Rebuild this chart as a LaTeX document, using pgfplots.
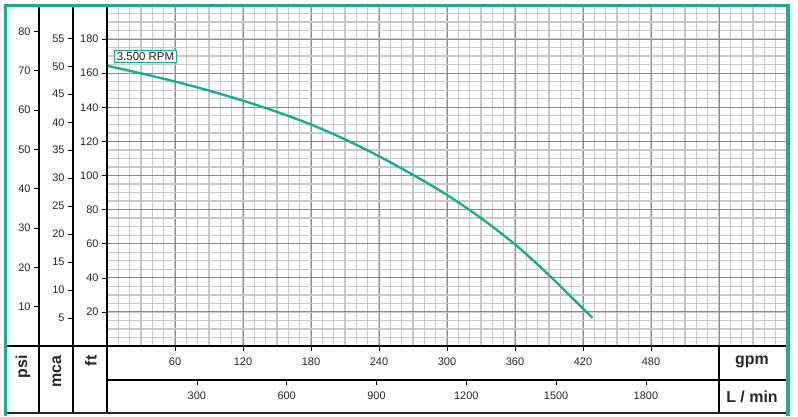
\documentclass[border=0pt]{standalone}
\usepackage{fontspec}
\setmainfont{Liberation Sans}
\usepackage{pgfplots}
\pgfplotsset{compat=1.18}

\definecolor{rpm}{RGB}{24,176,140}
\definecolor{gridmin}{RGB}{200,200,200}
\definecolor{gridmaj}{RGB}{140,140,140}
\definecolor{txt}{RGB}{40,40,40}

\pgfplotsset{
  pumpaxis/.style={
    scale only axis, anchor=south west,
    tick align=outside, major tick length=5bp, minor tick length=0pt,
    every tick/.style={black, line width=0.6bp},
    ticklabel style={font=\fontsize{11}{13}\selectfont, text=txt},
    /pgf/number format/assume math mode=true,
    /pgf/number format/1000 sep={},
    axis line style={draw=none},
  },
}

\begin{document}
\begin{tikzpicture}[x=1bp,y=1bp]
\path[use as bounding box] (0,0) rectangle (798,416);

% head in ft against flow in gpm
\begin{axis}[pumpaxis, at={(107bp,70bp)}, width=680bp, height=341bp,
  xmin=0, xmax=600, ymin=0, ymax=200,
  xtick={60,120,...,480}, ytick={20,40,...,180},
  minor xtick={0,10,...,600}, minor ytick={0,5,...,200},
  extra x ticks={540,600}, extra y ticks={200},
  extra x tick labels={}, extra y tick labels={},
  extra tick style={major tick length=0pt, grid=major},
  xtick pos=left, ytick pos=left,
  grid=both,
  minor grid style={gridmin, line width=1.3bp},
  major grid style={gridmaj, line width=0.9bp},
  xticklabel style={yshift=-3bp},
]
\addplot[rpm, line width=2.4bp, smooth] coordinates {
  (0,164.4) (30,159.9) (60,155.1) (90,149.8) (120,143.9) (150,137.3)
  (180,129.9) (210,121.2) (240,111.3) (270,100.4) (300,88.6) (330,75.0)
  (360,59.6) (390,41.6) (420,21.9) (428.3,16.6)};
\node[draw=rpm, fill=white, line width=1bp, inner sep=2bp,
  font=\fontsize{11.5}{13}\selectfont, text=txt] at (axis cs:34,169.6) {3.500 RPM};
\end{axis}

% mca scale
\begin{axis}[pumpaxis, at={(73bp,70bp)}, width=34bp, height=341bp,
  xmin=0, xmax=1, ymin=0, ymax=60.96,
  hide x axis, axis y line*=left,
  ytick={5,10,...,55}]
\end{axis}

% psi scale
\begin{axis}[pumpaxis, at={(39bp,70bp)}, width=34bp, height=341bp,
  xmin=0, xmax=1, ymin=0, ymax=86.71,
  hide x axis, axis y line*=left,
  ytick={10,20,...,80}]
\end{axis}

% L/min scale
\begin{axis}[pumpaxis, at={(107bp,36bp)}, width=680bp, height=30bp,
  xmin=0, xmax=2271.2, ymin=0, ymax=1,
  hide y axis, axis x line*=bottom,
  xtick={300,600,...,1800},
  xticklabel style={yshift=-3bp}]
\end{axis}

% frame lines
\draw[black, line width=1.3bp] (39,3) -- (39,411) (73,3) -- (73,411) (107,3) -- (107,411);
\draw[black, line width=1.3bp] (5,70) -- (787,70);
\draw[black, line width=1.3bp] (107,36) -- (787,36);
\draw[black, line width=1.3bp] (719,3) -- (719,70);
\draw[black!85, line width=2.4bp] (5,3.3) -- (787,3.3);

% unit labels
\begin{scope}[font=\fontsize{16}{18}\selectfont\bfseries, text=txt]
\node[rotate=90, anchor=east] at (23,64) {psi};
\node[rotate=90, anchor=east] at (57,64) {mca};
\node[rotate=90, anchor=east] at (91,64) {ft};
\node at (752,54) {gpm};
\node at (752,19) {L / min};
\end{scope}

% green border
\draw[rpm, line width=3.5bp] (5.5,0) -- (5.5,410.5) -- (787.8,410.5) -- (787.8,0);
\end{tikzpicture}
\end{document}
